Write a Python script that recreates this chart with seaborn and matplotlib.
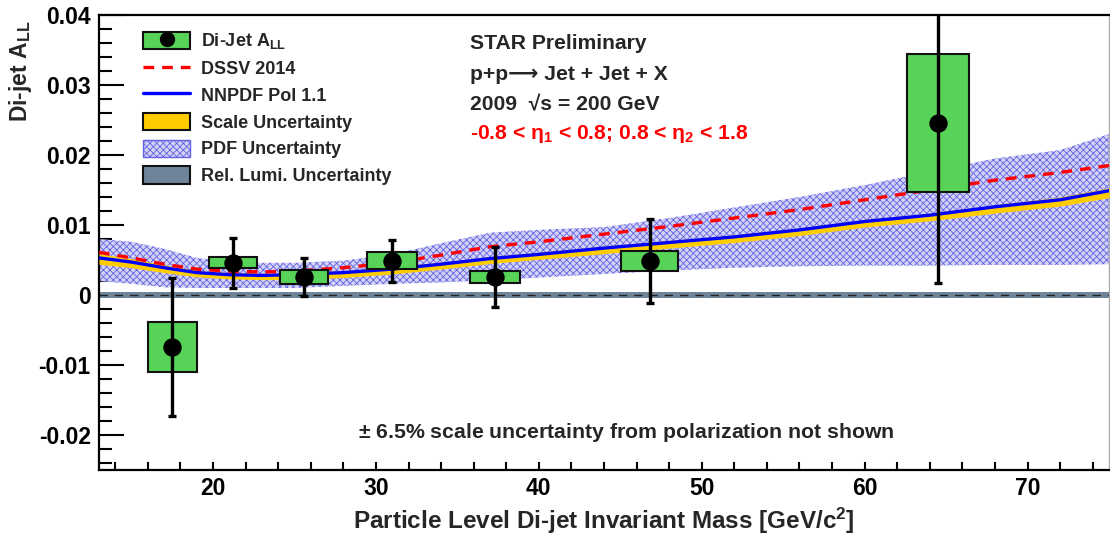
import numpy as np
import matplotlib
matplotlib.use("Agg")
import matplotlib.pyplot as plt
from matplotlib.ticker import MultipleLocator, FixedLocator, FixedFormatter
from matplotlib.patches import Patch
from matplotlib.lines import Line2D
import seaborn as sns
import pandas as pd

# ---- measured di-jet A_LL ----
mass = [17.5, 21.2, 25.6, 31.0, 37.3, 46.8, 64.5]
a_ll = [-0.0074, 0.0046, 0.0026, 0.0049, 0.0026, 0.0049, 0.0246]
stat_err = [0.0099, 0.0036, 0.0027, 0.0030, 0.0043, 0.0060, 0.0229]
sys_err = [0.0036, 0.0008, 0.0010, 0.0012, 0.0009, 0.0014, 0.0099]
mass_sys = [3.0, 2.95, 2.95, 3.05, 3.1, 3.5, 3.85]

# ---- theory curves ----
theory_mass = [13, 15, 17, 19, 21, 23, 25, 28, 31, 34, 37, 40, 44, 48, 52, 56, 60, 64, 68, 72, 75]
nnpdf = [0.0053, 0.0047, 0.0039, 0.0032, 0.0029, 0.0028, 0.0029, 0.0032, 0.0037, 0.0044, 0.0052,
         0.0058, 0.0067, 0.0075, 0.0083, 0.0093, 0.0105, 0.0114, 0.0126, 0.0136, 0.0149]
dssv = [0.0061, 0.0053, 0.0044, 0.0037, 0.0034, 0.0033, 0.0034, 0.0039, 0.0046, 0.0057, 0.0069,
        0.0076, 0.0087, 0.0098, 0.0110, 0.0122, 0.0136, 0.0150, 0.0164, 0.0175, 0.0185]
pdf_hi = [0.0080, 0.0076, 0.0066, 0.0053, 0.0047, 0.0046, 0.0046, 0.0049, 0.0058, 0.0074, 0.0089,
          0.0093, 0.0097, 0.0110, 0.0125, 0.0140, 0.0157, 0.0176, 0.0195, 0.0207, 0.0230]
pdf_lo = [0.0020, 0.0016, 0.0011, 0.0010, 0.0010, 0.0010, 0.0010, 0.0013, 0.0016, 0.0018, 0.0021,
          0.0025, 0.0030, 0.0035, 0.0039, 0.0041, 0.0042, 0.0042, 0.0043, 0.0043, 0.0044]
scale_hi = [0.0059, 0.0052, 0.0043, 0.0035, 0.0032, 0.0031, 0.0032, 0.0035, 0.0040, 0.0047, 0.0055,
            0.0061, 0.0070, 0.0078, 0.0086, 0.0096, 0.0108, 0.0117, 0.0129, 0.0140, 0.0153]
scale_lo = [0.0044, 0.0039, 0.0032, 0.0026, 0.0023, 0.0022, 0.0022, 0.0025, 0.0030, 0.0037, 0.0045,
            0.0051, 0.0059, 0.0067, 0.0075, 0.0085, 0.0097, 0.0106, 0.0117, 0.0127, 0.0139]
lumi_err = 0.00045

# ---- axis ticks ----
x_ticks = [20, 30, 40, 50, 60, 70]
x_tick_labels = ["20", "30", "40", "50", "60", "70"]
y_ticks = [-0.02, -0.01, 0.0, 0.01, 0.02, 0.03, 0.04]
y_tick_labels = ["-0.02", "-0.01", "0", "0.01", "0.02", "0.03", "0.04"]

sns.set_style("ticks")
plt.rcParams["font.family"] = ["Liberation Sans", "DejaVu Sans"]
plt.rcParams["font.weight"] = "bold"
plt.rcParams["mathtext.fontset"] = "custom"
plt.rcParams["mathtext.rm"] = "Liberation Sans:bold"
plt.rcParams["mathtext.bf"] = "Liberation Sans:bold"
plt.rcParams["mathtext.it"] = "Liberation Sans"
plt.rcParams["hatch.linewidth"] = 0.6

GREEN = "#57d357"
GOLD = "#ffcc00"
LUMI = "#6e8599"
PDF_EDGE = "#6262e2"
PDF_FACE = "#d2d2f7"

fig = plt.figure(figsize=(11.10, 5.36), dpi=100)
ax = fig.add_axes([99 / 1110, 66 / 536, 1010 / 1110, 455 / 536])

theory = pd.DataFrame({"mass": theory_mass, "nnpdf": nnpdf, "dssv": dssv})
data = pd.DataFrame({"mass": mass, "a_ll": a_ll})

# relative luminosity band and zero line
ax.axhspan(-lumi_err, lumi_err, color=LUMI, lw=0, zorder=1)
ax.axhline(0, color="#222222", lw=1.0, ls=(0, (6, 5)), zorder=1.5)

# PDF uncertainty band (hatched)
ax.fill_between(theory_mass, pdf_lo, pdf_hi, facecolor=PDF_FACE, edgecolor=PDF_EDGE,
                hatch="xxxxx", lw=0, zorder=2)
# scale uncertainty band
ax.fill_between(theory_mass, scale_lo, scale_hi, color=GOLD, lw=0, zorder=3)

sns.lineplot(data=theory, x="mass", y="nnpdf", ax=ax, color="#0000ff", lw=2.4, zorder=4)
sns.lineplot(data=theory, x="mass", y="dssv", ax=ax, color="#ff0000", lw=2.4, zorder=4,
             dashes=False)
ax.lines[-1].set_linestyle((0, (3.2, 2.4)))

# systematic boxes
bottoms = [v - s for v, s in zip(a_ll, sys_err)]
heights = [2 * s for s in sys_err]
ax.bar(mass, heights, bottom=bottoms, width=mass_sys, color=GREEN, edgecolor="#111111",
       lw=1.5, zorder=5)

# statistical error bars and points
ax.errorbar(mass, a_ll, yerr=stat_err, fmt="none", ecolor="black", elinewidth=2.4,
            capsize=3, capthick=2.4, zorder=6)
sns.scatterplot(data=data, x="mass", y="a_ll", ax=ax, color="black", s=150,
                edgecolor="black", zorder=7)

ax.set_xlim(13, 75)
ax.set_ylim(-0.025, 0.04)

ax.xaxis.set_major_locator(FixedLocator(x_ticks))
ax.xaxis.set_major_formatter(FixedFormatter(x_tick_labels))
ax.xaxis.set_minor_locator(MultipleLocator(2))
ax.yaxis.set_major_locator(FixedLocator(y_ticks))
ax.yaxis.set_major_formatter(FixedFormatter(y_tick_labels))
ax.yaxis.set_minor_locator(MultipleLocator(0.002))

ax.tick_params(axis="both", which="both", direction="in", width=1.5, colors="black",
               labelsize=16.5)
ax.tick_params(axis="y", which="major", length=18, pad=6)
ax.tick_params(axis="y", which="minor", length=9)
ax.tick_params(axis="x", which="both", length=6, pad=5)
for lab in ax.get_xticklabels() + ax.get_yticklabels():
    lab.set_fontweight("bold")

for side in ["left", "bottom", "top"]:
    ax.spines[side].set_linewidth(1.6)
    ax.spines[side].set_color("black")
ax.spines["right"].set_linewidth(1.0)
ax.spines["right"].set_color("#aaaaaa")
ax.spines["top"].set_visible(True)
ax.spines["right"].set_visible(True)

ax.set_xlabel(r"Particle Level Di-jet Invariant Mass [GeV/c$^{2}$]", fontsize=17.5,
              fontweight="bold", labelpad=4)
ax.set_ylabel(r"Di-jet A$_{\rm LL}$", fontsize=16.5, fontweight="bold", ha="right")
ax.yaxis.set_label_coords(-0.064, 0.988)

# legend
h_data = (Patch(facecolor=GREEN, edgecolor="#111111", lw=1.5),
          Line2D([], [], marker="o", color="black", ls="none", markersize=10))
h_dssv = Line2D([], [], color="#ff0000", lw=2.4, ls=(0, (3.2, 2.4)))
h_nnpdf = Line2D([], [], color="#0000ff", lw=2.4)
h_scale = Patch(facecolor=GOLD, edgecolor="#111111", lw=1.5)
h_pdf = Patch(facecolor=PDF_FACE, edgecolor=PDF_EDGE, hatch="xxxxx", lw=1.0)
h_lumi = Patch(facecolor=LUMI, edgecolor="#111111", lw=1.5)
leg = ax.legend([h_data, h_dssv, h_nnpdf, h_scale, h_pdf, h_lumi],
                [r"Di-Jet A$_{\rm LL}$", "DSSV 2014", "NNPDF Pol 1.1", "Scale Uncertainty",
                 "PDF Uncertainty", "Rel. Lumi. Uncertainty"],
                loc="upper left", bbox_to_anchor=(0.044, 0.964), frameon=False,
                borderpad=0, borderaxespad=0, handlelength=2.6, handleheight=1.1,
                handletextpad=0.6, labelspacing=0.44, prop={"size": 13, "weight": "bold"})
leg.set_zorder(10)

# header text
hdr = 15.2
ax.text(0.367, 0.938, "STAR Preliminary", transform=ax.transAxes, fontsize=hdr,
        fontweight="bold", va="center", ha="left", zorder=10)
ax.text(0.367, 0.870, "p+p\u27f6 Jet + Jet + X", transform=ax.transAxes, fontsize=hdr,
        fontweight="bold", va="center", ha="left", zorder=10)
ax.text(0.367, 0.802, "2009  \u221as = 200 GeV", transform=ax.transAxes, fontsize=hdr,
        fontweight="bold", va="center", ha="left", zorder=10)
ax.text(0.367, 0.738, r"-0.8 < $\eta_{1}$ < 0.8; 0.8 < $\eta_{2}$ < 1.8",
        transform=ax.transAxes, fontsize=hdr, fontweight="bold", color="#ff0000",
        va="center", ha="left", zorder=10)
ax.text(0.256, 0.0835, r"$\pm$ 6.5% scale uncertainty from polarization not shown",
        transform=ax.transAxes, fontsize=15.3, fontweight="bold", va="center", ha="left",
        zorder=10)

fig.savefig("out.png", dpi=100)
